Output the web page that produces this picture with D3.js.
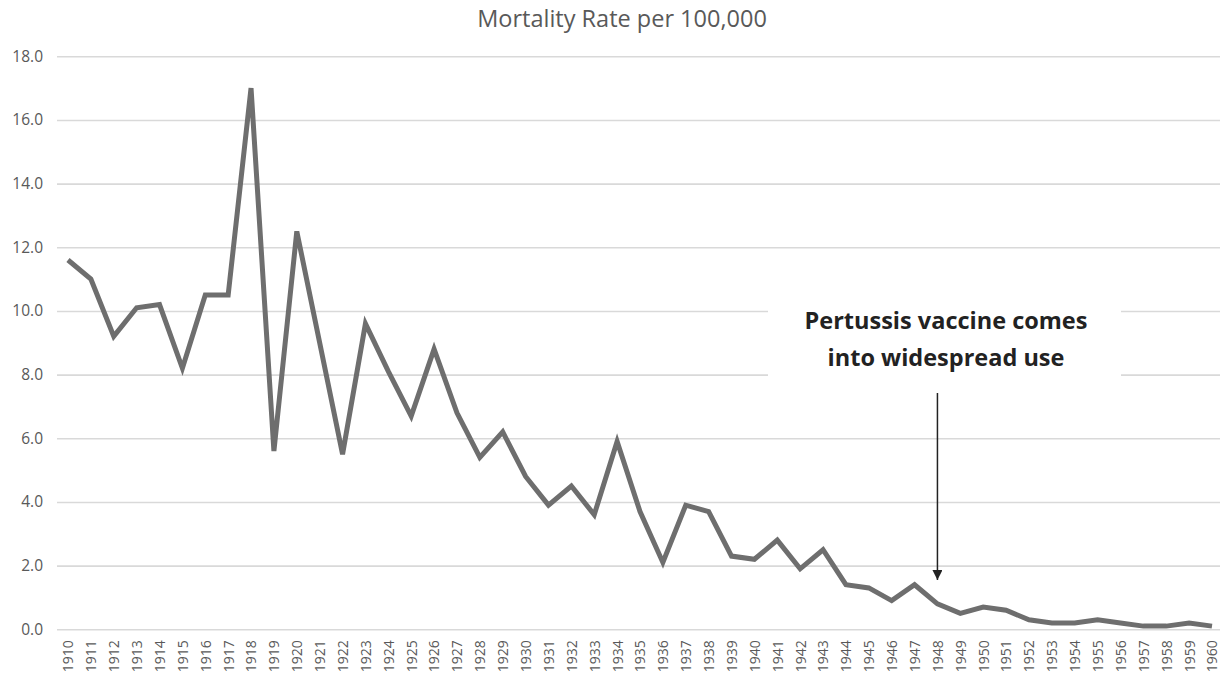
<!DOCTYPE html>
<html>
<head>
<meta charset="utf-8">
<script src="https://cdn.jsdelivr.net/npm/d3@7"></script>
<style>
  body { margin: 0; background: #fff; }
  svg { display: block; }
</style>
</head>
<body>
<div id="chart"></div>
<script>
// years and mortality values
var years = d3.range(1910, 1961);
var rates = [11.6, 11.0, 9.2, 10.1, 10.2, 8.2, 10.5, 10.5, 17.0, 5.6,
  12.5, 9.0, 5.5, 9.6, 8.1, 6.7, 8.8, 6.8, 5.4, 6.2,
  4.8, 3.9, 4.5, 3.6, 5.9, 3.7, 2.1, 3.9, 3.7, 2.3,
  2.2, 2.8, 1.9, 2.5, 1.4, 1.3, 0.9, 1.4, 0.8, 0.5,
  0.7, 0.6, 0.3, 0.2, 0.2, 0.3, 0.2, 0.1, 0.1, 0.2, 0.1];
var yTicks = [0, 2, 4, 6, 8, 10, 12, 14, 16, 18];
var title = 'Mortality Rate per 100,000';
var noteLines = ['Pertussis vaccine comes', 'into widespread use'];
var noteYear = 1948;

var attrs = {
  width: 1220,
  height: 676,
  gridLeft: 57,
  gridRight: 1220,
  xLeft: 68,
  xRight: 1212,
  yTop: 56.3,
  yBottom: 629.3,
  lineColor: '#6e6e6e',
  gridColor: '#d9d9d9',
  textColor: '#595959'
};

var data = years.map(function (y, i) { return { year: y, value: rates[i] }; });

var svg = d3.select('#chart').append('svg')
  .attr('width', attrs.width)
  .attr('height', attrs.height);

var x = d3.scaleLinear().domain([1910, 1960]).range([attrs.xLeft, attrs.xRight]);
var y = d3.scaleLinear().domain([0, 18]).range([attrs.yBottom, attrs.yTop]);

// gridlines + y labels
var yAxis = d3.axisLeft(y)
  .tickValues(yTicks)
  .tickSize(-(attrs.gridRight - attrs.gridLeft))
  .tickPadding(14)
  .tickFormat(d3.format('.1f'));

var gy = svg.append('g')
  .attr('transform', 'translate(' + attrs.gridLeft + ',0)')
  .call(yAxis);
gy.select('.domain').remove();
gy.selectAll('line').attr('stroke', attrs.gridColor).attr('stroke-width', 1.6);
gy.selectAll('text')
  .attr('fill', attrs.textColor)
  .style('font-family', '"Open Sans", sans-serif')
  .style('font-size', '15.5px');

// x labels, rotated
var xAxis = d3.axisBottom(x)
  .tickValues(years)
  .tickSize(0)
  .tickFormat(d3.format('d'));

var gx = svg.append('g')
  .attr('transform', 'translate(0,' + attrs.yBottom + ')')
  .call(xAxis);
gx.select('.domain').remove();
gx.selectAll('text')
  .attr('fill', attrs.textColor)
  .style('font-family', '"Open Sans", sans-serif')
  .style('font-size', '14px')
  .attr('text-anchor', 'end')
  .attr('transform', 'rotate(-90)')
  .attr('x', -11)
  .attr('y', 0)
  .attr('dy', '0.35em');

// white box behind the note
svg.append('rect')
  .attr('x', 768).attr('y', 286)
  .attr('width', 353).attr('height', 104)
  .attr('fill', '#fff');

// data line
var line = d3.line()
  .x(function (d) { return x(d.year); })
  .y(function (d) { return y(d.value); });

svg.append('path')
  .datum(data)
  .attr('d', line)
  .attr('fill', 'none')
  .attr('stroke', attrs.lineColor)
  .attr('stroke-width', 5)
  .attr('stroke-linejoin', 'miter');

// title
svg.append('text')
  .attr('x', 622).attr('y', 27)
  .attr('text-anchor', 'middle')
  .attr('fill', attrs.textColor)
  .style('font-family', '"Open Sans", sans-serif')
  .style('font-size', '23.5px')
  .text(title);

// annotation
var note = svg.append('text')
  .attr('text-anchor', 'middle')
  .attr('fill', '#222')
  .style('font-family', '"Open Sans", sans-serif')
  .style('font-weight', 'bold')
  .style('font-size', '23.5px');
note.selectAll('tspan')
  .data(noteLines)
  .enter().append('tspan')
  .attr('x', 946)
  .attr('y', function (d, i) { return 329 + i * 37; })
  .text(function (d) { return d; });

// arrow
var ax = x(noteYear);
svg.append('defs').append('marker')
  .attr('id', 'arrowhead')
  .attr('viewBox', '0 0 10 10')
  .attr('refX', 10).attr('refY', 5)
  .attr('markerWidth', 10).attr('markerHeight', 10)
  .attr('markerUnits', 'userSpaceOnUse')
  .attr('orient', 'auto')
  .append('path')
  .attr('d', 'M0,0 L10,5 L0,10 Z')
  .attr('fill', '#222');

svg.append('line')
  .attr('x1', ax).attr('x2', ax)
  .attr('y1', 393).attr('y2', 580)
  .attr('stroke', '#222')
  .attr('stroke-width', 1.5)
  .attr('marker-end', 'url(#arrowhead)');
</script>
</body>
</html>
